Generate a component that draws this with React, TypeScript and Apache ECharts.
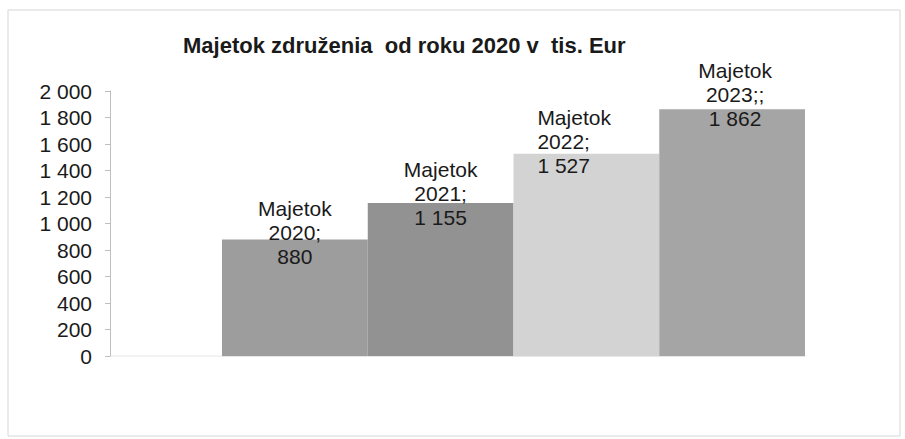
import React, { useEffect, useRef } from "react";
import * as echarts from "echarts";

const categories = ["Majetok 2020", "Majetok 2021", "Majetok 2022", "Majetok 2023"];
const labelYears = ["2020;", "2021;", "2022;", "2023;;"];
const values = [880, 1155, 1527, 1862];
const barColors = ["#9d9d9d", "#929292", "#d3d3d3", "#a5a5a5"];
const yTicks = [0, 200, 400, 600, 800, 1000, 1200, 1400, 1600, 1800, 2000];
const titleText = "Majetok združenia  od roku 2020 v  tis. Eur";

const fmt = (v: number) => {
  const s = String(Math.round(v));
  return s.replace(/\B(?=(\d{3})+(?!\d))/g, " ");
};

const FONT = "'Liberation Sans', Arial, sans-serif";

export default function App() {
  const ref = useRef<HTMLDivElement>(null);
  useEffect(() => {
    if (!ref.current) return;
    const chart = echarts.init(ref.current, null, { renderer: "svg" });
    const labelDist = [-29, -27, -24, -21];
    const labelAlign = ["center", "center", "left", "center"];
    const labelOffset = [[0, 0], [0, 0], [-49, 0], [3, 0]];
    chart.setOption({
      animation: false,
      backgroundColor: "#ffffff",
      textStyle: { fontFamily: FONT },
      title: {
        text: titleText,
        left: 178,
        top: 29,
        textStyle: { fontFamily: FONT, fontSize: 22, fontWeight: "bold", color: "#1a1a1a" },
      },
      graphic: [
        {
          type: "rect",
          shape: { x: 8, y: 10, width: 892, height: 426 },
          style: { fill: "none", stroke: "#d6d6d6", lineWidth: 1 },
          silent: true,
        },
        {
          type: "line",
          shape: { x1: 110, y1: 356, x2: 222, y2: 356 },
          style: { stroke: "#e6e6e6", lineWidth: 1 },
          silent: true,
        },
      ],
      grid: { left: 222, right: 100, top: 91, bottom: 83, containLabel: false },
      xAxis: {
        type: "category",
        data: categories,
        axisLine: { show: true, lineStyle: { color: "#e6e6e6" } },
        axisTick: { show: false },
        axisLabel: { show: false },
        splitLine: { show: false },
      },
      yAxis: {
        type: "value",
        min: yTicks[0],
        max: yTicks[yTicks.length - 1],
        interval: 200,
        offset: 112,
        axisLine: { show: true, lineStyle: { color: "#bdbdbd" } },
        axisTick: { show: true, length: 5, lineStyle: { color: "#bdbdbd" } },
        axisLabel: {
          margin: 18,
          fontSize: 21,
          color: "#1a1a1a",
          fontFamily: FONT,
          formatter: (v: number) => fmt(v),
        },
        splitLine: { show: false },
      },
      series: [
        {
          type: "bar",
          barCategoryGap: "0%",
          data: values.map((v, i) => ({
            value: v,
            itemStyle: { color: barColors[i] },
            label: {
              show: true,
              position: "top",
              distance: labelDist[i],
              align: labelAlign[i],
              offset: labelOffset[i],
              fontSize: 21,
              lineHeight: 24,
              color: "#1a1a1a",
              fontFamily: FONT,
              formatter: () => `Majetok\n${labelYears[i]}\n${fmt(v)}`,
            },
          })),
        },
      ],
    });
    return () => chart.dispose();
  }, []);
  return (
    <div
      ref={ref}
      style={{ position: "fixed", left: 0, top: 0, width: 905, height: 439 }}
    />
  );
}
